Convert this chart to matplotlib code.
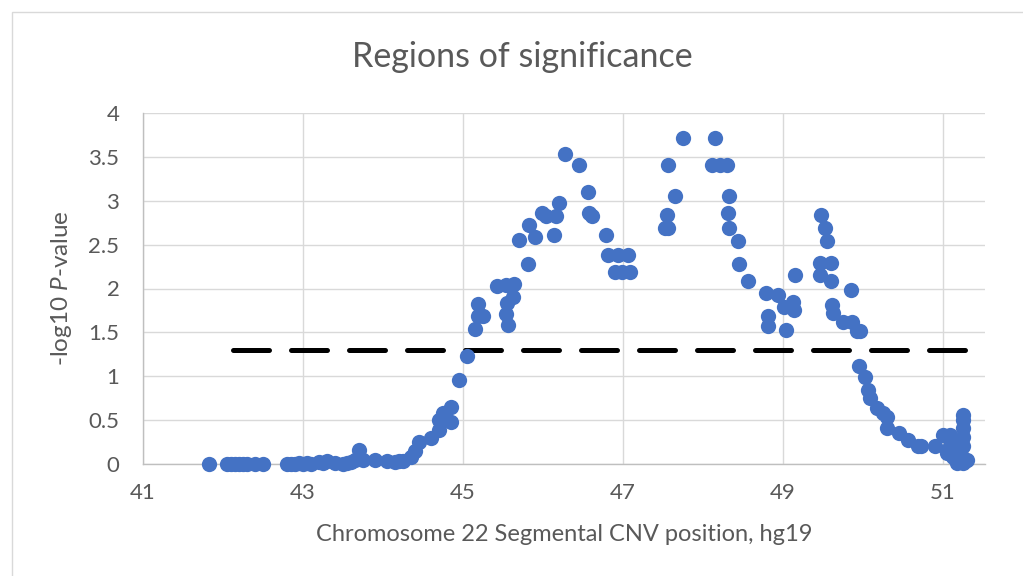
import numpy as np
import matplotlib
matplotlib.use('Agg')
import matplotlib.pyplot as plt
from matplotlib.patches import Rectangle

plt.rcParams['font.family'] = ['Lato', 'DejaVu Sans']
plt.rcParams['mathtext.fontset'] = 'custom'
plt.rcParams['mathtext.rm'] = 'Lato'
plt.rcParams['mathtext.it'] = 'Lato:italic'

# CNV positions (Mb, hg19) and -log10 P
pos = [41.82, 42.05, 42.1, 42.15, 42.2, 42.25, 42.3, 42.4, 42.5,
       42.8, 42.85, 42.9, 42.95, 43.0, 43.05, 43.1, 43.2, 43.25, 43.3,
       43.4, 43.5, 43.55, 43.6, 43.65, 43.7, 43.75, 43.9, 44.05, 44.15,
       44.2, 44.25,
       44.35, 44.4, 44.45, 44.6, 44.7, 44.7, 44.75, 44.85, 44.85, 44.95,
       45.05, 45.15, 45.19, 45.19, 45.25, 45.42, 45.54, 45.64, 45.62,
       45.55, 45.54, 45.56, 45.81, 45.7, 45.82, 45.9, 45.99, 46.04,
       46.14, 46.16, 46.2, 46.28, 46.45, 46.56, 46.61, 46.58, 46.79,
       46.81, 46.94, 47.06, 46.9, 46.99, 47.09, 47.53, 47.56, 47.55,
       47.56, 47.65, 47.75, 48.15, 48.11, 48.21, 48.3, 48.32, 48.31,
       48.32, 48.44, 48.45, 48.56, 48.79, 48.94, 48.81, 48.81, 49.04,
       49.01, 49.12, 49.14, 49.15, 49.47, 49.52, 49.55, 49.46, 49.6,
       49.46, 49.6, 49.61, 49.62, 49.75, 49.85, 49.86, 49.92, 49.96,
       49.95, 50.02, 50.06, 50.09, 50.17, 50.25, 50.3, 50.3, 50.45,
       50.56, 50.69, 50.72, 50.9, 51.0, 51.09, 51.25, 51.25, 51.25,
       51.25, 51.25, 51.09, 51.12, 51.17, 51.25, 51.3, 51.05, 51.2,
       51.15, 51.22, 51.28]
logp = [0.0, 0.0, 0.0, 0.0, 0.0, 0.0, 0.0, 0.0, 0.0,
        0.0, 0.0, 0.0, 0.01, 0.0, 0.01, 0.0, 0.02, 0.01, 0.03,
        0.01, 0.0, 0.01, 0.02, 0.05, 0.16, 0.04, 0.05, 0.03, 0.02,
        0.03, 0.03,
        0.08, 0.15, 0.25, 0.3, 0.39, 0.5, 0.58, 0.65, 0.48, 0.96,
        1.23, 1.54, 1.69, 1.82, 1.69, 2.03, 2.04, 2.05, 1.9,
        1.84, 1.71, 1.58, 2.28, 2.55, 2.72, 2.59, 2.86, 2.83,
        2.61, 2.83, 2.97, 3.53, 3.41, 3.1, 2.83, 2.86, 2.61,
        2.38, 2.38, 2.38, 2.19, 2.19, 2.19, 2.69, 2.69, 2.84,
        3.41, 3.05, 3.71, 3.71, 3.41, 3.41, 3.41, 3.05, 2.86,
        2.69, 2.54, 2.28, 2.09, 1.95, 1.93, 1.69, 1.57, 1.53,
        1.79, 1.85, 1.75, 2.15, 2.84, 2.69, 2.54, 2.29, 2.29,
        2.15, 2.09, 1.81, 1.72, 1.62, 1.98, 1.62, 1.51, 1.51,
        1.12, 0.99, 0.84, 0.75, 0.64, 0.58, 0.54, 0.41, 0.35,
        0.27, 0.21, 0.2, 0.2, 0.33, 0.33, 0.56, 0.5, 0.41,
        0.31, 0.2, 0.2, 0.08, 0.01, 0.01, 0.05, 0.12, 0.25,
        0.15, 0.1, 0.03]

threshold_x = [42.12, 51.27]
threshold_y = [1.3, 1.3]

fig = plt.figure(figsize=(10.23, 5.76), dpi=100)
fig.patches.append(Rectangle((12 / 1023, -0.1), 1.2, 1.1 - 12 / 576,
                             transform=fig.transFigure, fill=False,
                             edgecolor='#D9D9D9', linewidth=1))
ax = fig.add_axes([143 / 1023, 112 / 576, 842 / 1023, 351 / 576])

ax.plot(threshold_x, threshold_y, color='black', linewidth=3.6,
        dashes=(7.2, 4.4), solid_capstyle='round', dash_capstyle='round', zorder=3)
ax.plot(pos, logp, 'o', color='#4472C4', markersize=11, markeredgewidth=0,
        zorder=4, clip_on=False)

ax.set_xlim(41, 51.525)
ax.set_ylim(0, 4)
ax.set_xticks([41, 43, 45, 47, 49, 51])
ax.set_yticks(np.arange(0, 4.01, 0.5))
ax.set_yticklabels(['0', '0.5', '1', '1.5', '2', '2.5', '3', '3.5', '4'])
ax.grid(True, color='#D9D9D9', linewidth=1)
ax.set_axisbelow(True)
for s in ['top', 'right']:
    ax.spines[s].set_visible(False)
for s in ['left', 'bottom']:
    ax.spines[s].set_color('#BFBFBF')
    ax.spines[s].set_linewidth(1)
ax.tick_params(length=0, labelsize=16, colors='#595959')
ax.tick_params(axis='y', pad=17)
ax.tick_params(axis='x', pad=14)

# title centred on the whole chart area, like Excel
fig.text(522 / 1023, 1 - 57 / 576, 'Regions of significance', fontsize=24.5,
         color='#595959', ha='center', va='center')
ax.set_xlabel('Chromosome 22 Segmental CNV position, hg19', fontsize=17,
              color='#595959', labelpad=15)
ax.set_ylabel(r'-log10 $\mathit{P}$-value', fontsize=17.5, color='#595959',
              labelpad=10)

fig.savefig('out.png', dpi=100)
